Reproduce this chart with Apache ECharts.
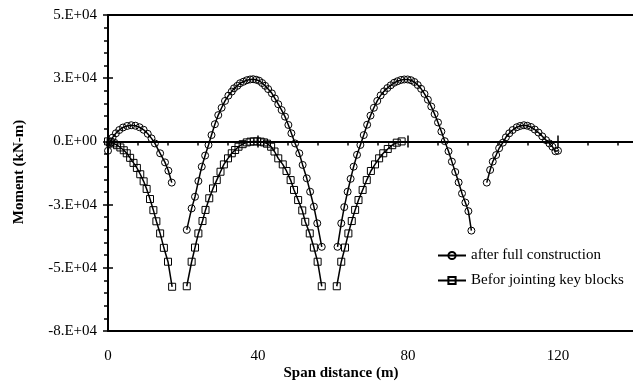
<!DOCTYPE html>
<html>
<head>
<meta charset="utf-8">
<script src="https://cdn.jsdelivr.net/npm/echarts@6/dist/echarts.min.js"></script>
<style>
  html, body { margin: 0; padding: 0; background: #fff; }
  #chart { width: 633px; height: 384px; }
</style>
</head>
<body>
<div id="chart"></div>
<script>
// after full construction (circles), one array per segment
const afterA = [[0,-3700],[0.4,-1000],[1.2,1500],[2.1,3200],[3,4500],[4,5500],[5.1,6100],[6.2,6400],[7.3,6200],[8.4,5600],[9.5,4600],[10.6,3000],[11.6,1200],[12.5,-800],[13.9,-4700],[15.2,-8300],[16.1,-11600],[17,-16300]];
const afterB = [[21,-35000],[22.3,-26500],[23.2,-21900],[24.1,-15700],[25,-10000],[25.9,-5600],[26.8,-1400],[27.6,2500],[28.5,6800],[29.4,10400],[30.3,13300],[31.2,16000],[32.1,18100],[33,19700],[33.6,21000],[34.5,22000],[35.2,23000],[36.1,23600],[37,24200],[37.9,24500],[38.7,24600],[39.5,24400],[40.3,24000],[41.1,23100],[41.9,22000],[42.7,20700],[43.7,19000],[44.5,17000],[45.4,14700],[46.3,12400],[47.2,9800],[48.1,6500],[48.9,3200],[49.9,-800],[51,-4700],[51.9,-9300],[53,-14600],[53.9,-19900],[54.9,-25800],[55.8,-32400],[57,-41700]];
const afterC = [[61.2,-41700],[62.2,-32400],[63,-26000],[63.9,-19900],[64.7,-14800],[65.5,-10000],[66.4,-5300],[67.3,-1400],[68.2,2500],[69.1,6600],[70,10200],[70.9,13300],[71.8,16000],[72.7,18200],[73.6,19800],[74.5,21100],[75.4,22200],[76.3,23200],[77.2,23800],[78.1,24300],[79,24500],[79.9,24500],[80.8,24200],[81.7,23500],[82.6,22300],[83.5,20800],[84.4,18800],[85.3,16500],[86.2,13800],[87.1,10800],[88,7500],[88.9,3900],[89.8,100],[90.8,-3900],[91.7,-8000],[92.6,-12100],[93.5,-16200],[94.4,-20600],[95.3,-24200],[96.1,-27600],[96.9,-35300]];
const afterD = [[101,-16300],[101.9,-11300],[102.6,-8000],[103.5,-5400],[104.3,-2700],[105.3,-500],[106.1,1600],[107,3200],[107.9,4500],[109,5600],[109.9,6100],[110.9,6400],[111.8,6200],[112.8,5700],[113.8,4700],[114.8,3500],[115.8,2000],[116.8,500],[117.7,-800],[118.5,-2100],[119.3,-3900],[120,-3700]];

// befor jointing key blocks (squares)
const beforeA = [[0,0],[0.7,-300],[1.5,-800],[2.4,-1500],[3.3,-2400],[4.2,-3500],[5,-4700],[5.9,-6500],[6.8,-8500],[7.7,-10500],[8.6,-13000],[9.5,-15800],[10.3,-18800],[11.2,-22800],[12.1,-27200],[12.9,-31600],[13.9,-36400],[14.9,-42100],[16,-47600],[17.1,-57500]];
const beforeB = [[21,-57300],[22.3,-47600],[23.2,-42000],[24.1,-36400],[25.2,-31500],[26,-27100],[27,-22500],[28,-18600],[29,-15300],[30,-12000],[30.9,-9100],[32,-6700],[33,-4700],[33.9,-3400],[34.8,-2100],[35.9,-1100],[37,-400],[38,-100],[38.9,0],[39.8,0],[40.7,-100],[41.6,-400],[42.4,-900],[43.5,-2100],[44.4,-4000],[45.4,-6700],[46.6,-9100],[47.6,-11700],[48.7,-15300],[49.6,-19200],[50.7,-23200],[51.8,-27300],[52.6,-31800],[53.8,-36400],[54.9,-42000],[55.9,-47600],[57,-57300]];
const beforeC = [[61,-57300],[62.2,-47600],[63.2,-42000],[64.1,-36400],[65,-31500],[65.9,-27100],[66.8,-23200],[67.9,-19200],[69,-15300],[70.1,-11700],[71.2,-9100],[72.3,-6700],[73.4,-4700],[74.6,-3000],[75.8,-1500],[77,-500],[78.3,0]];

const xTickValues = [0, 40, 80, 120];
const xTickLabels = ['0', '40', '80', '120'];
const xMinorTicks = [8, 16, 24, 32, 48, 56, 64, 72, 88, 96, 104, 112, 128, 136];
const yTickValues = [-75000, -50000, -25000, 0, 25000, 50000];
const yTickLabels = ['-8.E+04', '-5.E+04', '-3.E+04', '0.E+00', '3.E+04', '5.E+04'];

const FONT = 'Liberation Serif';

// segments joined with an empty point so the line breaks between them
function joinSegments(segs) {
  const out = [];
  segs.forEach((seg, i) => {
    if (i > 0) out.push([seg[0][0] - 1, '-']);
    seg.forEach((p) => out.push(p));
  });
  return out;
}

const chart = echarts.init(document.getElementById('chart'), null, { renderer: 'canvas' });

const blackLine = { color: '#000', width: 2 };

chart.setOption({
  animation: false,
  backgroundColor: '#fff',
  grid: { left: 108, right: 0, top: 15, bottom: 53, containLabel: false, outerBoundsMode: 'none' },
  xAxis: [
    {
      // bottom frame with labels
      type: 'value', min: 0, max: 140, interval: 40, position: 'bottom',
      axisLine: { onZero: false, lineStyle: blackLine },
      axisTick: { show: false },
      splitLine: { show: false },
      axisLabel: {
        customValues: xTickValues,
        formatter: (v) => xTickLabels[xTickValues.indexOf(v)],
        fontFamily: FONT, fontSize: 15, color: '#000', margin: 18
      }
    },
    {
      // top frame
      type: 'value', min: 0, max: 140, position: 'top',
      axisLine: { onZero: false, lineStyle: blackLine },
      axisTick: { show: false }, axisLabel: { show: false }, splitLine: { show: false }
    },
    {
      // zero line, small ticks
      type: 'value', min: 0, max: 140, position: 'bottom',
      axisLine: { onZero: true, onZeroAxisIndex: 0, lineStyle: blackLine },
      axisTick: { customValues: xMinorTicks, length: 4, lineStyle: { color: '#000', width: 1.5 } },
      axisLabel: { show: false }, splitLine: { show: false }
    },
    {
      // zero line, major ticks below
      type: 'value', min: 0, max: 140, position: 'bottom',
      axisLine: { show: false, onZero: true, onZeroAxisIndex: 0 },
      axisTick: { customValues: xTickValues, length: 6, lineStyle: { color: '#000', width: 1.5 } },
      axisLabel: { show: false }, splitLine: { show: false }
    },
    {
      // zero line, major ticks above
      type: 'value', min: 0, max: 140, position: 'bottom',
      axisLine: { show: false, onZero: true, onZeroAxisIndex: 0 },
      axisTick: { customValues: xTickValues, inside: true, length: 6, lineStyle: { color: '#000', width: 1.5 } },
      axisLabel: { show: false }, splitLine: { show: false }
    }
  ],
  yAxis: [
    {
      type: 'value', min: -75000, max: 50000, interval: 25000, position: 'left',
      axisLine: { show: true, onZero: false, lineStyle: blackLine },
      axisTick: { show: true, length: 5, lineStyle: { color: '#000', width: 1.5 } },
      minorTick: { show: true, splitNumber: 5, length: 4, lineStyle: { color: '#000', width: 1.5 } },
      splitLine: { show: false },
      axisLabel: {
        formatter: (v) => yTickLabels[yTickValues.indexOf(v)],
        fontFamily: FONT, fontSize: 15, color: '#000', margin: 11
      }
    },
    {
      type: 'value', min: -75000, max: 50000, interval: 25000, position: 'left',
      axisLine: { show: false, onZero: false },
      axisTick: { show: true, inside: true, length: 5, lineStyle: { color: '#000', width: 1.5 } },
      axisLabel: { show: false }, splitLine: { show: false }
    }
  ],
  legend: {
    orient: 'vertical', left: 437, top: 248, padding: 0,
    itemWidth: 28, itemHeight: 9, itemGap: 10,
    selectedMode: false,
    textStyle: { fontFamily: FONT, fontSize: 15, color: '#000', lineHeight: 15 },
    data: ['after full construction', 'Befor jointing key blocks']
  },
  graphic: [
    {
      type: 'text', x: 341, y: 373,
      style: { text: 'Span distance (m)', font: 'bold 15px "Liberation Serif"', fill: '#000', align: 'center', verticalAlign: 'middle' }
    },
    {
      type: 'text', x: 19, y: 172, rotation: Math.PI / 2,
      style: { text: 'Moment (kN-m)', font: 'bold 15px "Liberation Serif"', fill: '#000', align: 'center', verticalAlign: 'middle' }
    }
  ],
  series: [
    {
      name: 'after full construction',
      type: 'line',
      data: joinSegments([afterA, afterB, afterC, afterD]),
      symbol: 'circle', symbolSize: 7,
      connectNulls: false, clip: false,
      lineStyle: { color: '#000', width: 1.5 },
      itemStyle: { color: 'rgba(255,255,255,0)', borderColor: '#000', borderWidth: 1 },
      emphasis: { disabled: true },
      z: 4
    },
    {
      name: 'Befor jointing key blocks',
      type: 'line',
      data: joinSegments([beforeA, beforeB, beforeC]),
      symbol: 'rect', symbolSize: 7,
      connectNulls: false, clip: false,
      lineStyle: { color: '#000', width: 1.5 },
      itemStyle: { color: 'rgba(255,255,255,0)', borderColor: '#000', borderWidth: 1 },
      emphasis: { disabled: true },
      z: 4
    }
  ]
});
</script>
</body>
</html>
